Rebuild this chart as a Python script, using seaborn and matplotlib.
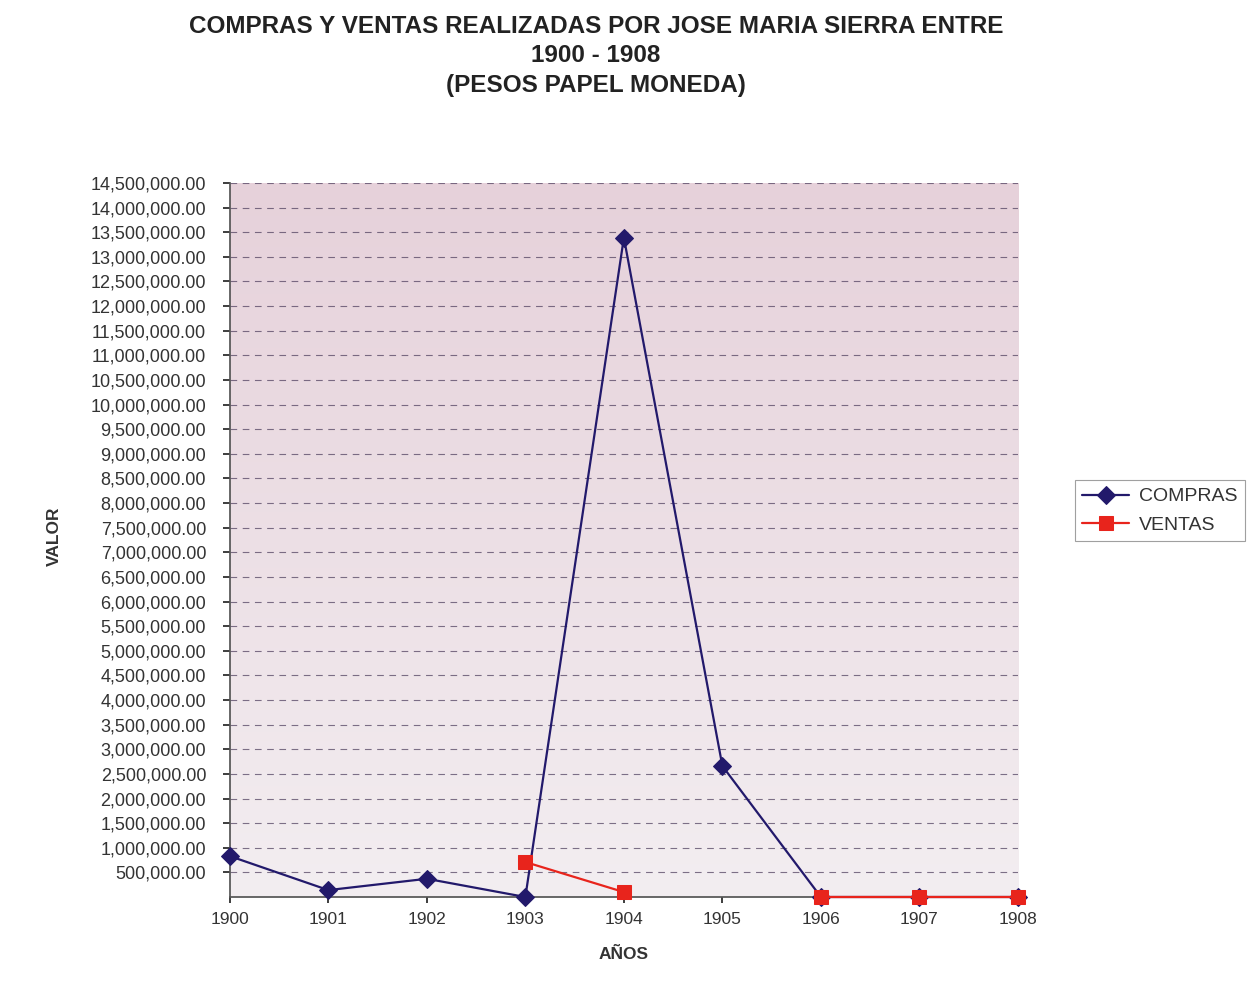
import matplotlib
matplotlib.use("Agg")
import matplotlib.pyplot as plt
import matplotlib.ticker as mticker
from matplotlib.colors import LinearSegmentedColormap
import numpy as np
import pandas as pd
import seaborn as sns

years = [1900, 1901, 1902, 1903, 1904, 1905, 1906, 1907, 1908]
compras = [830000, 140000, 370000, 0, 13390000, 2660000, 0, 0, 0]
ventas = [np.nan, np.nan, np.nan, 710000, 100000, np.nan, 0, 0, 0]
series_names = ["COMPRAS", "VENTAS"]
y_ticks = list(range(500000, 14500001, 500000))

sns.set_theme(style="white")
plt.rcParams['font.family'] = ['Liberation Sans', 'DejaVu Sans']

df = pd.DataFrame({
    "AÑO": years * 2,
    "VALOR": compras + ventas,
    "SERIE": [series_names[0]] * len(years) + [series_names[1]] * len(years),
})

fig = plt.figure(figsize=(12.49, 10), dpi=100)
fig.patch.set_facecolor("white")
ax = fig.add_axes([0.184, 0.103, 0.631, 0.714])

grad = np.linspace(0, 1, 256).reshape(-1, 1)
cmap = LinearSegmentedColormap.from_list("bg", ["#f3eef1", "#e6d1da"])
ax.imshow(grad, aspect="auto", cmap=cmap, extent=[0, 1, 0, 1],
          transform=ax.transAxes, origin="lower", zorder=0)

palette = {"COMPRAS": "#22196b", "VENTAS": "#e8241c"}
markers = {"COMPRAS": "D", "VENTAS": "s"}
msize = {"COMPRAS": 9, "VENTAS": 10}
for name in series_names:
    sub = df[df["SERIE"] == name].reset_index(drop=True)
    valid = sub["VALOR"].notna()
    seg_id = sub["VALOR"].isna().cumsum()
    first = True
    for _, seg in sub[valid].groupby(seg_id[valid]):
        sns.lineplot(data=seg, x="AÑO", y="VALOR", ax=ax, color=palette[name],
                     marker=markers[name], markersize=msize[name],
                     markeredgecolor=palette[name], linewidth=1.6,
                     label=name if first else None,
                     clip_on=False, zorder=3, estimator=None)
        first = False

ax.set_xlim(1900, 1908)
ax.set_ylim(0, 14500000)
ax.set_xticks(years)
ax.set_xticklabels([str(y) for y in years], fontsize=12.5, color="#333333")
ax.set_yticks(y_ticks)
ax.yaxis.set_major_formatter(mticker.FuncFormatter(lambda v, p: f"{v:,.2f}"))
ax.tick_params(axis="y", labelsize=13, labelcolor="#333333", length=5, direction="out",
               left=True, pad=12)
ax.tick_params(axis="x", length=4, direction="out", bottom=True, pad=7)
ax.grid(axis="y", linestyle=(0, (6, 5)), color="#4a3a5a", linewidth=0.8, alpha=0.7)
ax.grid(axis="x", visible=False)
for s in ["top", "right"]:
    ax.spines[s].set_visible(False)
ax.spines["left"].set_color("#555555")
ax.spines["bottom"].set_color("#555555")

ax.set_xlabel("AÑOS", fontsize=12.5, fontweight="bold", color="#333333", labelpad=14)
ax.set_ylabel("VALOR", fontsize=12.5, fontweight="bold", color="#333333")
ax.yaxis.set_label_coords(-0.213, 0.505)

leg = ax.legend(loc="center left", bbox_to_anchor=(1.072, 0.541), frameon=True,
                fontsize=14, fancybox=False, edgecolor="#888888", borderpad=0.4,
                handlelength=2.4, handletextpad=0.5, labelspacing=0.55,
                borderaxespad=0)
leg.get_frame().set_linewidth(0.8)
for t in leg.get_texts():
    t.set_color("#333333")

fig.text(0.477, 0.985, "COMPRAS Y VENTAS REALIZADAS POR JOSE MARIA SIERRA ENTRE\n1900 - 1908\n(PESOS PAPEL MONEDA)",
         ha="center", va="top", fontsize=17.5, fontweight="bold", color="#222222", linespacing=1.35)

fig.savefig("out.png", dpi=100)
